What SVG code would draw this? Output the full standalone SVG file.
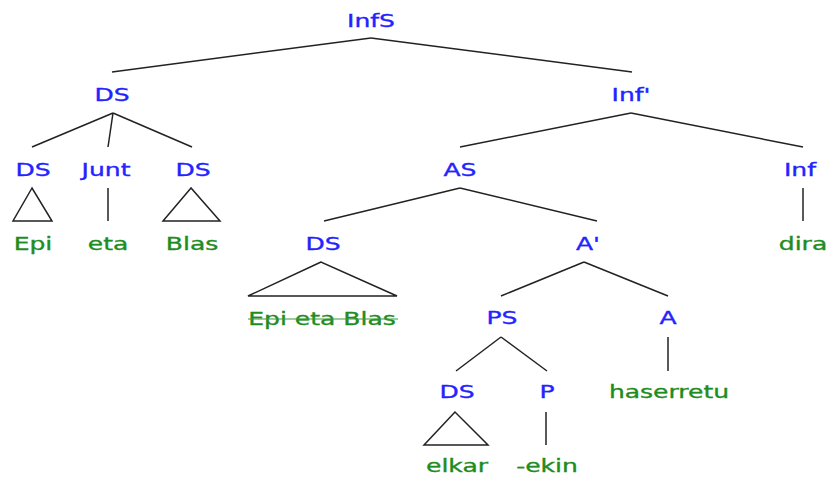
<svg xmlns="http://www.w3.org/2000/svg" width="833" height="478" viewBox="0 0 833 478">
<style>
text{font-family:"DejaVu Sans",Verdana,sans-serif;font-size:18px;text-anchor:middle;stroke-width:0.35}
.c{fill:#2323ff;stroke:#2323ff}
.w{fill:#1e8c1e;stroke:#1e8c1e}
.e line,.e polygon{stroke:#222;stroke-width:1.5;fill:none}
</style>
<rect width="833" height="478" fill="#fff"/>
<g id="connectors" class="e">
<line x1="371" y1="38" x2="112" y2="72"/>
<line x1="371" y1="38" x2="632" y2="72"/>
<line x1="113" y1="113" x2="32" y2="147"/>
<line x1="113" y1="113" x2="108" y2="147"/>
<line x1="113" y1="113" x2="192" y2="147"/>
<polygon points="32,188 13,221 52,221"/>
<line x1="108" y1="188" x2="108" y2="221"/>
<polygon points="191,188 163,221 220,221"/>
<line x1="631" y1="113" x2="460" y2="147"/>
<line x1="631" y1="113" x2="803" y2="147"/>
<line x1="803" y1="188" x2="803" y2="221"/>
<line x1="460" y1="188" x2="324" y2="221"/>
<line x1="460" y1="188" x2="597" y2="221"/>
<polygon points="321,262 248,296 397,296"/>
<line x1="584" y1="262" x2="501" y2="296"/>
<line x1="584" y1="262" x2="668" y2="296"/>
<line x1="501" y1="337" x2="456" y2="371"/>
<line x1="501" y1="337" x2="547" y2="371"/>
<line x1="668" y1="337" x2="668" y2="371"/>
<polygon points="455,412 424,445 488,445"/>
<line x1="546" y1="412" x2="546" y2="445"/>
</g>
<g id="n-infs"><text class="c" transform="translate(371,27) scale(1.39,1)">InfS</text></g>
<g id="n-ds"><text class="c" transform="translate(112,101) scale(1.39,1)">DS</text></g>
<g id="n-infbar"><text class="c" transform="translate(631,101) scale(1.39,1)">Inf'</text></g>
<g id="n-ds1"><text class="c" transform="translate(33,176) scale(1.39,1)">DS</text></g>
<g id="n-junt"><text class="c" transform="translate(106,176) scale(1.39,1)">Junt</text></g>
<g id="n-ds2"><text class="c" transform="translate(193,176) scale(1.39,1)">DS</text></g>
<g id="n-as"><text class="c" transform="translate(460,176) scale(1.39,1)">AS</text></g>
<g id="n-inf"><text class="c" transform="translate(800,176) scale(1.39,1)">Inf</text></g>
<g id="w-epi"><text class="w" transform="translate(33,250) scale(1.39,1)">Epi</text></g>
<g id="w-eta"><text class="w" transform="translate(108,250) scale(1.39,1)">eta</text></g>
<g id="w-blas"><text class="w" transform="translate(192,250) scale(1.39,1)">Blas</text></g>
<g id="w-dira"><text class="w" transform="translate(803,250) scale(1.39,1)">dira</text></g>
<g id="n-ds3"><text class="c" transform="translate(323,250) scale(1.39,1)">DS</text></g>
<g id="n-abar"><text class="c" transform="translate(588,250) scale(1.39,1)">A'</text></g>
<g id="w-epietablas"><text class="w" transform="translate(322,325) scale(1.39,1)">Epi eta Blas</text><line x1="248" y1="319" x2="398" y2="319" stroke="#3a9a3a" stroke-width="1"/></g>
<g id="n-ps"><text class="c" transform="translate(502,324) scale(1.39,1)">PS</text></g>
<g id="n-a"><text class="c" transform="translate(668,324) scale(1.39,1)">A</text></g>
<g id="n-ds4"><text class="c" transform="translate(457,398) scale(1.39,1)">DS</text></g>
<g id="n-p"><text class="c" transform="translate(547,398) scale(1.39,1)">P</text></g>
<g id="w-haserretu"><text class="w" transform="translate(669,398) scale(1.39,1)">haserretu</text></g>
<g id="w-elkar"><text class="w" transform="translate(457,472) scale(1.39,1)">elkar</text></g>
<g id="w-ekin"><text class="w" transform="translate(547,472) scale(1.39,1)">-ekin</text></g>
</svg>
